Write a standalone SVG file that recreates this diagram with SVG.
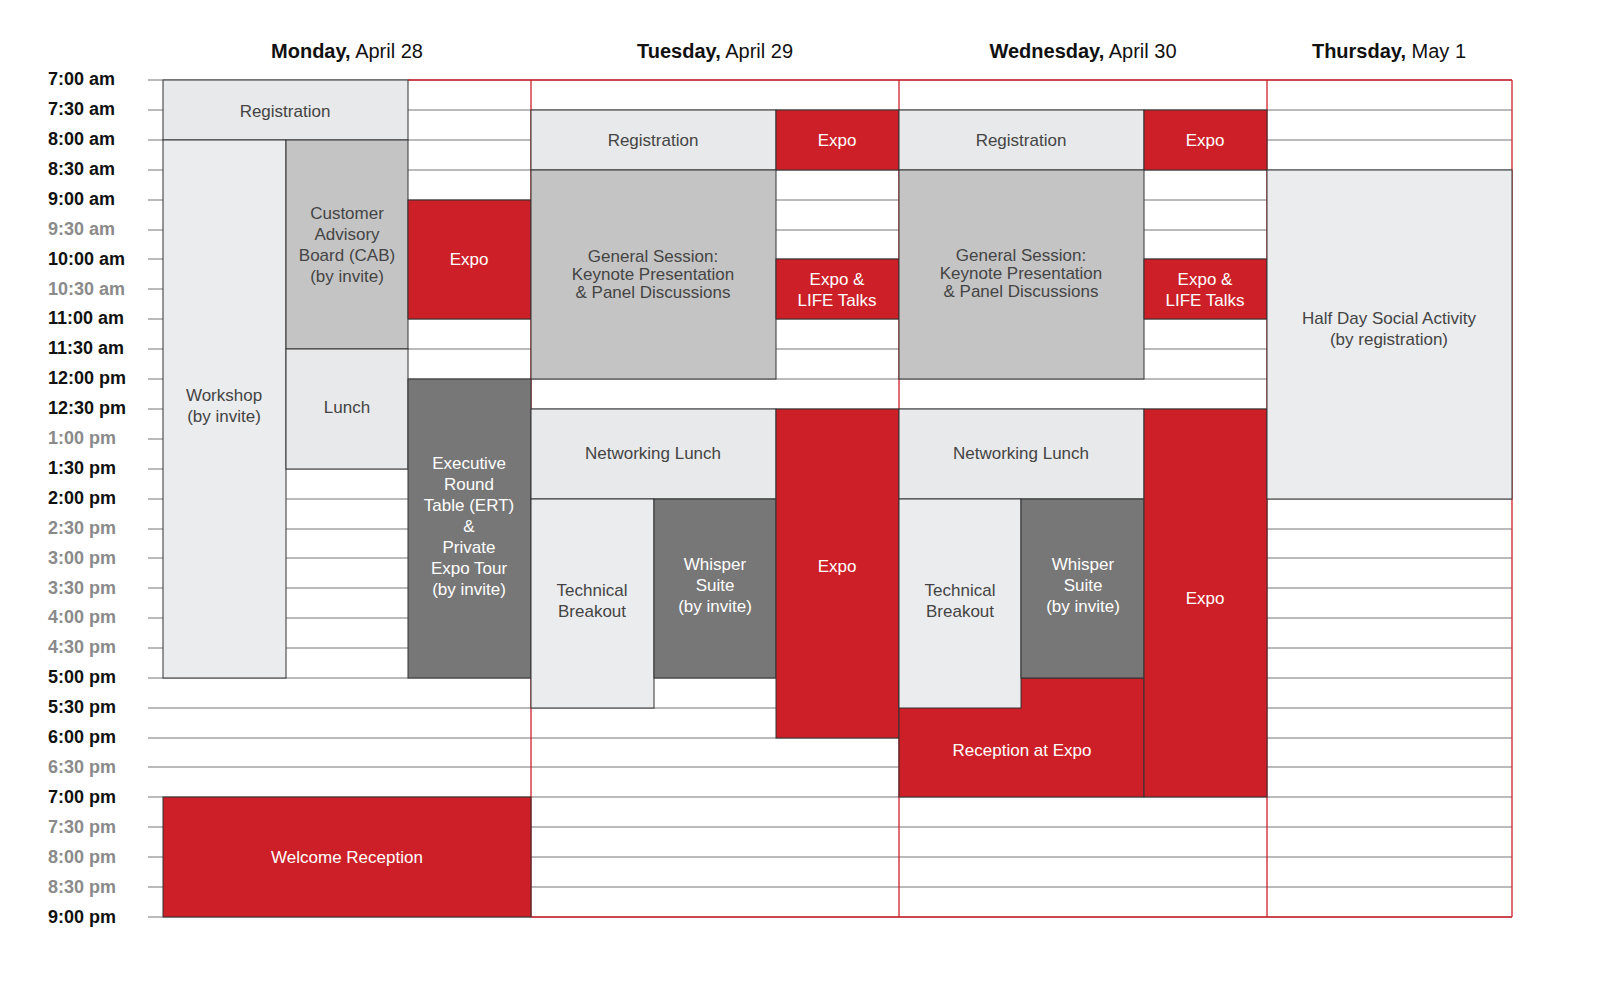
<svg xmlns="http://www.w3.org/2000/svg" width="1600" height="981" viewBox="0 0 1600 981">
<style>
text{font-family:"Liberation Sans",Arial,sans-serif}
.h{font-size:20px;fill:#111;text-anchor:middle}
.t{font-size:18px;font-weight:bold}
.k{fill:#111}.g{fill:#8a8a8a}
.ln{stroke:#777;stroke-width:1}
.rl{stroke:#d0202a;stroke-width:1.3;fill:none}
rect{stroke:#333;stroke-width:1}
.lt{fill:#e8e9ea}.wk{fill:#ebecee}.md{fill:#c4c4c4}.dk{fill:#777}.rd{fill:#cd1f27}
.bl{font-size:17px;fill:#444;text-anchor:middle}
.wl{font-size:17px;fill:#fff;text-anchor:middle}
</style>
<g id="headers">
<text class="h" x="347" y="58"><tspan font-weight="bold">Monday,</tspan> April 28</text>
<text class="h" x="715" y="58"><tspan font-weight="bold">Tuesday,</tspan> April 29</text>
<text class="h" x="1083" y="58"><tspan font-weight="bold">Wednesday,</tspan>  April 30</text>
<text class="h" x="1389" y="58"><tspan font-weight="bold">Thursday,</tspan> May 1</text>
</g>
<g id="times" class="t">
<text class="k" x="48" y="85">7:00 am</text>
<text class="k" x="48" y="115">7:30 am</text>
<text class="k" x="48" y="145">8:00 am</text>
<text class="k" x="48" y="175">8:30 am</text>
<text class="k" x="48" y="205">9:00 am</text>
<text class="g" x="48" y="235">9:30 am</text>
<text class="k" x="48" y="265">10:00 am</text>
<text class="g" x="48" y="295">10:30 am</text>
<text class="k" x="48" y="324">11:00 am</text>
<text class="k" x="48" y="354">11:30 am</text>
<text class="k" x="48" y="384">12:00 pm</text>
<text class="k" x="48" y="414">12:30 pm</text>
<text class="g" x="48" y="444">1:00 pm</text>
<text class="k" x="48" y="474">1:30 pm</text>
<text class="k" x="48" y="504">2:00 pm</text>
<text class="g" x="48" y="534">2:30 pm</text>
<text class="g" x="48" y="564">3:00 pm</text>
<text class="g" x="48" y="594">3:30 pm</text>
<text class="g" x="48" y="623">4:00 pm</text>
<text class="g" x="48" y="653">4:30 pm</text>
<text class="k" x="48" y="683">5:00 pm</text>
<text class="k" x="48" y="713">5:30 pm</text>
<text class="k" x="48" y="743">6:00 pm</text>
<text class="g" x="48" y="773">6:30 pm</text>
<text class="k" x="48" y="803">7:00 pm</text>
<text class="g" x="48" y="833">7:30 pm</text>
<text class="g" x="48" y="863">8:00 pm</text>
<text class="g" x="48" y="893">8:30 pm</text>
<text class="k" x="48" y="923">9:00 pm</text>
</g>
<g id="grid" class="ln">
<line x1="148" y1="80" x2="1512" y2="80"/><line x1="148" y1="110" x2="1512" y2="110"/><line x1="148" y1="140" x2="1512" y2="140"/><line x1="148" y1="170" x2="1512" y2="170"/><line x1="148" y1="200" x2="1512" y2="200"/><line x1="148" y1="230" x2="1512" y2="230"/><line x1="148" y1="259" x2="1512" y2="259"/><line x1="148" y1="289" x2="1512" y2="289"/><line x1="148" y1="319" x2="1512" y2="319"/><line x1="148" y1="349" x2="1512" y2="349"/><line x1="148" y1="379" x2="1512" y2="379"/><line x1="148" y1="409" x2="1512" y2="409"/><line x1="148" y1="439" x2="1512" y2="439"/><line x1="148" y1="469" x2="1512" y2="469"/><line x1="148" y1="499" x2="1512" y2="499"/><line x1="148" y1="529" x2="1512" y2="529"/><line x1="148" y1="558" x2="1512" y2="558"/><line x1="148" y1="588" x2="1512" y2="588"/><line x1="148" y1="618" x2="1512" y2="618"/><line x1="148" y1="648" x2="1512" y2="648"/><line x1="148" y1="678" x2="1512" y2="678"/><line x1="148" y1="708" x2="1512" y2="708"/><line x1="148" y1="738" x2="1512" y2="738"/><line x1="148" y1="767" x2="1512" y2="767"/><line x1="148" y1="797" x2="1512" y2="797"/><line x1="148" y1="827" x2="1512" y2="827"/><line x1="148" y1="857" x2="1512" y2="857"/><line x1="148" y1="887" x2="1512" y2="887"/><line x1="148" y1="917" x2="1512" y2="917"/>
</g>
<g id="frame" class="rl">
<line x1="408" y1="80" x2="1512" y2="80"/>
<line x1="531" y1="80" x2="531" y2="917"/><line x1="899" y1="80" x2="899" y2="917"/><line x1="1267" y1="80" x2="1267" y2="917"/><line x1="1512" y1="80" x2="1512" y2="917"/>
<line x1="531" y1="917" x2="1512" y2="917"/>
</g>
<g id="monday">
<g id="mon-reg"><rect class="lt" x="163" y="80" width="245" height="60"/><text class="bl" x="285" y="117">Registration</text></g>
<g id="mon-workshop"><rect class="wk" x="163" y="140" width="123" height="538"/><text class="bl" x="224" y="401">Workshop</text><text class="bl" x="224" y="422">(by invite)</text></g>
<g id="mon-cab"><rect class="md" x="286" y="140" width="122" height="209"/><text class="bl" x="347" y="219">Customer</text><text class="bl" x="347" y="240">Advisory</text><text class="bl" x="347" y="261">Board (CAB)</text><text class="bl" x="347" y="282">(by invite)</text></g>
<g id="mon-lunch"><rect class="lt" x="286" y="349" width="122" height="120"/><text class="bl" x="347" y="413">Lunch</text></g>
<g id="mon-expo"><rect class="rd" x="408" y="200" width="123" height="119"/><text class="wl" x="469" y="265">Expo</text></g>
<g id="mon-ert"><rect class="dk" x="408" y="379" width="123" height="299"/><text class="wl" x="469" y="469">Executive</text><text class="wl" x="469" y="490">Round</text><text class="wl" x="469" y="511">Table (ERT)</text><text class="wl" x="469" y="532">&amp;</text><text class="wl" x="469" y="553">Private</text><text class="wl" x="469" y="574">Expo Tour</text><text class="wl" x="469" y="595">(by invite)</text></g>
<g id="mon-welcome"><rect class="rd" x="163" y="797" width="368" height="120"/><text class="wl" x="347" y="863">Welcome Reception</text></g>
</g>
<g id="tuesday">
<g id="tue-reg"><rect class="lt" x="531" y="110" width="245" height="60"/><text class="bl" x="653" y="146">Registration</text></g>
<g id="tue-expo1"><rect class="rd" x="776" y="110" width="123" height="60"/><text class="wl" x="837" y="146">Expo</text></g>
<g id="tue-gs"><rect class="md" x="531" y="170" width="245" height="209"/><text class="bl" x="653" y="262">General Session:</text><text class="bl" x="653" y="280">Keynote Presentation</text><text class="bl" x="653" y="298">&amp; Panel Discussions</text></g>
<g id="tue-life"><rect class="rd" x="776" y="259" width="123" height="60"/><text class="wl" x="837" y="285">Expo &amp;</text><text class="wl" x="837" y="306">LIFE Talks</text></g>
<g id="tue-lunch"><rect class="lt" x="531" y="409" width="245" height="90"/><text class="bl" x="653" y="459">Networking Lunch</text></g>
<g id="tue-tech"><rect class="wk" x="531" y="499" width="123" height="209"/><text class="bl" x="592" y="596">Technical</text><text class="bl" x="592" y="617">Breakout</text></g>
<g id="tue-whisper"><rect class="dk" x="654" y="499" width="122" height="179"/><text class="wl" x="715" y="570">Whisper</text><text class="wl" x="715" y="591">Suite</text><text class="wl" x="715" y="612">(by invite)</text></g>
<g id="tue-expo2"><rect class="rd" x="776" y="409" width="123" height="329"/><text class="wl" x="837" y="572">Expo</text></g>
</g>
<g id="wednesday">
<g id="wed-reg"><rect class="lt" x="899" y="110" width="245" height="60"/><text class="bl" x="1021" y="146">Registration</text></g>
<g id="wed-expo1"><rect class="rd" x="1144" y="110" width="123" height="60"/><text class="wl" x="1205" y="146">Expo</text></g>
<g id="wed-gs"><rect class="md" x="899" y="170" width="245" height="209"/><text class="bl" x="1021" y="261">General Session:</text><text class="bl" x="1021" y="279">Keynote Presentation</text><text class="bl" x="1021" y="297">&amp; Panel Discussions</text></g>
<g id="wed-life"><rect class="rd" x="1144" y="259" width="123" height="60"/><text class="wl" x="1205" y="285">Expo &amp;</text><text class="wl" x="1205" y="306">LIFE Talks</text></g>
<g id="wed-lunch"><rect class="lt" x="899" y="409" width="245" height="90"/><text class="bl" x="1021" y="459">Networking Lunch</text></g>
<g id="wed-reception"><rect class="rd" x="899" y="678" width="245" height="119"/><text class="wl" x="1022" y="756">Reception at Expo</text></g>
<g id="wed-tech"><rect class="wk" x="899" y="499" width="122" height="209"/><text class="bl" x="960" y="596">Technical</text><text class="bl" x="960" y="617">Breakout</text></g>
<g id="wed-whisper"><rect class="dk" x="1021" y="499" width="123" height="179"/><text class="wl" x="1083" y="570">Whisper</text><text class="wl" x="1083" y="591">Suite</text><text class="wl" x="1083" y="612">(by invite)</text></g>
<g id="wed-expo2"><rect class="rd" x="1144" y="409" width="123" height="388"/><text class="wl" x="1205" y="604">Expo</text></g>
</g>
<g id="thursday">
<g id="thu-social"><rect class="wk" x="1267" y="170" width="245" height="329"/><text class="bl" x="1389" y="324">Half Day Social Activity</text><text class="bl" x="1389" y="345">(by registration)</text></g>
</g>
</svg>
